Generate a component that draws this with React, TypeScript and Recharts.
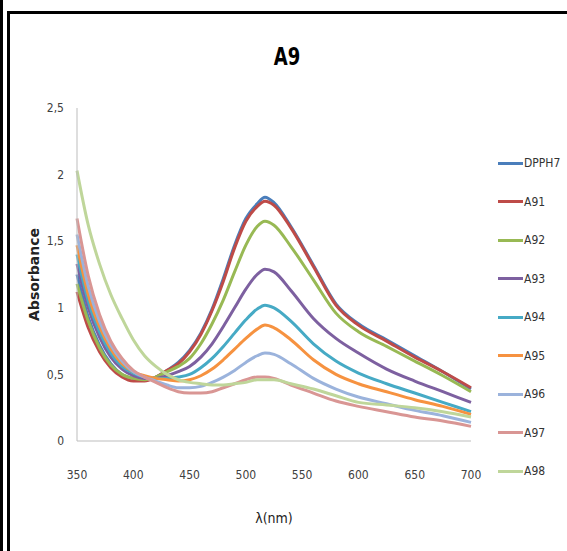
import { LineChart, Line, XAxis, YAxis, Legend } from "recharts";

const wavelengths = [350, 360, 370, 380, 390, 400, 410, 420, 430, 440, 450, 460, 470, 480, 490, 500, 510, 517, 525, 540, 560, 580, 600, 625, 650, 675, 700];

const dpph7 = [1.25, 0.93, 0.72, 0.58, 0.5, 0.47, 0.46, 0.48, 0.53, 0.59, 0.68, 0.81, 0.99, 1.22, 1.47, 1.67, 1.78, 1.83, 1.79, 1.61, 1.32, 1.03, 0.88, 0.76, 0.64, 0.52, 0.39];
const a91 = [1.12, 0.85, 0.67, 0.55, 0.48, 0.45, 0.45, 0.48, 0.53, 0.58, 0.67, 0.8, 0.98, 1.2, 1.45, 1.65, 1.76, 1.8, 1.77, 1.6, 1.31, 1.02, 0.87, 0.75, 0.63, 0.52, 0.4];
const a92 = [1.18, 0.9, 0.7, 0.57, 0.5, 0.47, 0.46, 0.48, 0.52, 0.56, 0.62, 0.73, 0.88, 1.06, 1.27, 1.47, 1.61, 1.65, 1.62, 1.46, 1.21, 0.96, 0.82, 0.71, 0.6, 0.49, 0.37];
const a93 = [1.33, 1.0, 0.78, 0.63, 0.54, 0.49, 0.47, 0.47, 0.49, 0.52, 0.56, 0.63, 0.73, 0.86, 1.0, 1.14, 1.25, 1.29, 1.27, 1.13, 0.92, 0.77, 0.66, 0.54, 0.45, 0.37, 0.29];
const a94 = [1.4, 1.05, 0.82, 0.66, 0.56, 0.51, 0.48, 0.47, 0.47, 0.48, 0.5, 0.55, 0.62, 0.71, 0.81, 0.91, 0.99, 1.02, 1.0, 0.9, 0.73, 0.6, 0.51, 0.43, 0.36, 0.29, 0.22];
const a95 = [1.47, 1.1, 0.86, 0.69, 0.58, 0.52, 0.49, 0.47, 0.46, 0.45, 0.46, 0.49, 0.54, 0.61, 0.69, 0.77, 0.84, 0.87, 0.85, 0.76, 0.61, 0.5, 0.43, 0.37, 0.31, 0.26, 0.2];
const a96 = [1.55, 1.16, 0.9, 0.72, 0.6, 0.52, 0.48, 0.45, 0.42, 0.4, 0.4, 0.41, 0.44, 0.48, 0.53, 0.59, 0.64, 0.66, 0.65, 0.58, 0.47, 0.39, 0.33, 0.28, 0.23, 0.19, 0.14];
const a97 = [1.67, 1.24, 0.95, 0.75, 0.62, 0.53, 0.48, 0.44, 0.4, 0.37, 0.36, 0.36, 0.37, 0.4, 0.43, 0.46, 0.48, 0.48, 0.47, 0.42, 0.36, 0.3, 0.26, 0.22, 0.18, 0.15, 0.11];
const a98 = [2.03, 1.62, 1.33, 1.1, 0.92, 0.76, 0.64, 0.56, 0.5, 0.46, 0.44, 0.43, 0.42, 0.42, 0.43, 0.44, 0.46, 0.46, 0.46, 0.43, 0.39, 0.34, 0.29, 0.27, 0.25, 0.22, 0.18];

const seriesNames = ["DPPH7", "A91", "A92", "A93", "A94", "A95", "A96", "A97", "A98"];
const seriesValues = [dpph7, a91, a92, a93, a94, a95, a96, a97, a98];
const seriesColors = ["#4a7ebb", "#be4b48", "#98b954", "#7d60a0", "#46aac5", "#f69240", "#9bb3dc", "#d99694", "#bfd69a"];

const xTicks = [350, 400, 450, 500, 550, 600, 650, 700];
const yTicks = [0, 0.5, 1, 1.5, 2, 2.5];

const data = wavelengths.map((wl, i) => {
  const row: Record<string, number> = { wl };
  seriesNames.forEach((name, s) => {
    row[name] = seriesValues[s][i];
  });
  return row;
});

const narrow = '"Liberation Sans Narrow", "Arial Narrow", "DejaVu Sans Condensed", sans-serif';

function renderLegend(props: any) {
  // keep the series order, not alphabetical
  const items = [...(props.payload || [])].sort(
    (a: any, b: any) => seriesNames.indexOf(a.value) - seriesNames.indexOf(b.value)
  );
  return (
    <div>
      {items.map((p: any) => (
        <div
          key={p.value}
          style={{ display: "flex", alignItems: "center", height: 38.5 }}
        >
          <span
            style={{ display: "inline-block", width: 25, height: 3, background: p.color }}
          />
          <span style={{ fontFamily: narrow, fontSize: 12, color: "#333", marginLeft: 1 }}>
            {p.value}
          </span>
        </div>
      ))}
    </div>
  );
}

export default function App() {
  return (
    <div
      style={{
        position: "absolute",
        left: 0,
        top: 0,
        width: 567,
        height: 551,
        background: "#fff",
        overflow: "hidden",
      }}
    >
      <div style={{ position: "absolute", left: 0, top: 0, width: 3, height: 551, background: "#000" }} />
      <div
        style={{
          position: "absolute",
          left: 7,
          top: 11,
          width: 600,
          height: 600,
          border: "3px solid #000",
        }}
      />
      <div
        style={{
          position: "absolute",
          left: 0,
          width: 574,
          top: 42,
          textAlign: "center",
          fontFamily: narrow,
          fontWeight: "bold",
          fontSize: 25,
          color: "#000",
          transform: "scaleX(0.8)",
        }}
      >
        A9
      </div>
      <div style={{ position: "absolute", left: 0, top: 0 }}>
        <LineChart
          width={567}
          height={551}
          data={data}
          margin={{ top: 108, right: 96, bottom: 70, left: 37 }}
        >
          <XAxis
            dataKey="wl"
            type="number"
            domain={[350, 700]}
            ticks={xTicks}
            tickLine={false}
            tickMargin={23}
            height={40}
            axisLine={{ stroke: "#bdbdbd" }}
            tick={{ fill: "#404040", fontSize: 12, fontFamily: narrow }}
            label={{
              value: "λ(nm)",
              position: "bottom",
              offset: 32,
              style: { fill: "#222", fontSize: 14, fontFamily: narrow },
            }}
          />
          <YAxis
            type="number"
            domain={[0, 2.5]}
            ticks={yTicks}
            width={40}
            tickLine={false}
            tickMargin={7}
            axisLine={{ stroke: "#bdbdbd" }}
            tick={{ fill: "#404040", fontSize: 12, fontFamily: narrow }}
            tickFormatter={(v: number) => String(v).replace(".", ",")}
            label={{
              value: "Absorbance",
              angle: -90,
              position: "insideLeft",
              offset: -3,
              style: {
                textAnchor: "middle",
                fill: "#222",
                fontSize: 14,
                fontWeight: "bold",
                fontFamily: '"DejaVu Sans", Verdana, sans-serif',
              },
            }}
          />
          <Legend
            layout="vertical"
            align="center"
            verticalAlign="middle"
            content={renderLegend}
            wrapperStyle={{ left: 498, top: 144, width: 70 }}
          />
          {seriesNames.map((name, s) => (
            <Line
              key={name}
              type="monotone"
              dataKey={name}
              name={name}
              stroke={seriesColors[s]}
              strokeWidth={3}
              dot={false}
              activeDot={false}
              isAnimationActive={false}
            />
          ))}
        </LineChart>
      </div>
    </div>
  );
}
